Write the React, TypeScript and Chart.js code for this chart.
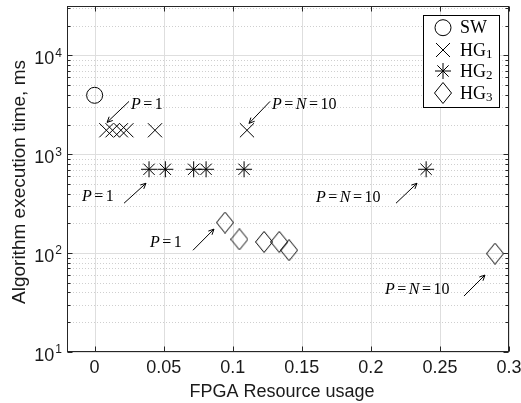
import React, { useEffect, useRef } from 'react';
import { Chart, registerables } from 'chart.js';

Chart.register(...registerables);

// ---------------- data ----------------
const swX = [0];
const swY = [3950];
const hg1X = [0.0085, 0.013, 0.019, 0.023, 0.0437, 0.1103];
const hg1Y = [1750, 1750, 1750, 1750, 1750, 1750];
const hg2X = [0.0394, 0.0512, 0.0717, 0.0807, 0.1082, 0.24];
const hg2Y = [705, 705, 705, 705, 705, 705];
const hg3X = [0.0944, 0.1048, 0.1227, 0.1337, 0.1408, 0.2899];
const hg3Y = [204, 138, 130, 130, 107, 99];

const seriesNames = ['SW', 'HG', 'HG', 'HG'];
const seriesSubs = ['', '1', '2', '3'];

const xTickValues = [0, 0.05, 0.1, 0.15, 0.2, 0.25, 0.3];
const xTickLabels = ['0', '0.05', '0.1', '0.15', '0.2', '0.25', '0.3'];
const yTickValues = [10, 100, 1000, 10000];
const yTickExps = ['1', '2', '3', '4'];
const yMinorMultipliers = [2, 3, 4, 5, 6, 7, 8, 9];

const xMin = -0.02;
const xMax = 0.3;
const yMin = 10;
const yMax = 31623;

const xTitle = 'FPGA Resource usage';
const yTitle = 'Algorithm execution time, ms';

// annotations (data coordinates): label, text left/middle anchor, arrow tail, arrow head
const annLabels = ['P=1', 'P=N=10', 'P=1', 'P=1', 'P=N=10', 'P=N=10'];
const annTextX = [0.0263, 0.1284, -0.0091, 0.0401, 0.1603, 0.2102];
const annTextY = [3199, 3199, 368, 126, 359, 42.3];
const annTailX = [0.0249, 0.127, 0.0213, 0.0712, 0.2182, 0.2674];
const annTailY = [3428, 3428, 320, 107, 320, 36.8];
const annHeadX = [0.009, 0.1118, 0.0372, 0.0864, 0.2334, 0.2826];
const annHeadY = [2104, 2056, 509, 175, 509, 60];

// ---------------- helpers ----------------
const SANS = '"Liberation Sans", Arial, sans-serif';
const SERIF = '"Liberation Serif", "Times New Roman", serif';
const TEXT = '#1a1a1a';

type Seg = { t: string; font: string; dy?: number; gap?: number };

function segsWidth(ctx: CanvasRenderingContext2D, segs: Seg[]) {
  let w = 0;
  segs.forEach((s) => {
    ctx.font = s.font;
    w += (s.gap || 0) + ctx.measureText(s.t).width;
  });
  return w;
}

function drawSegs(ctx: CanvasRenderingContext2D, segs: Seg[], x: number, y: number) {
  let cx = x;
  segs.forEach((s) => {
    cx += s.gap || 0;
    ctx.font = s.font;
    ctx.fillText(s.t, cx, y + (s.dy || 0));
    cx += ctx.measureText(s.t).width;
  });
}

function mathSegs(label: string, size: number, gapEq: number): Seg[] {
  const toks = label.match(/[A-Za-z]|=|\d+/g) || [];
  const segs: Seg[] = [];
  let pendingGap = 0;
  toks.forEach((tk) => {
    if (tk === '=') {
      segs.push({ t: '=', font: `${size}px ${SERIF}`, gap: gapEq });
      pendingGap = gapEq;
    } else if (/[A-Za-z]/.test(tk)) {
      segs.push({ t: tk, font: `italic ${size}px ${SERIF}`, gap: pendingGap });
      pendingGap = 0;
    } else {
      segs.push({ t: tk, font: `${size}px ${SERIF}`, gap: pendingGap });
      pendingGap = 0;
    }
  });
  return segs;
}

function makeDiamond(w: number, h: number) {
  const c = document.createElement('canvas');
  c.width = w;
  c.height = h;
  const g = c.getContext('2d')!;
  g.strokeStyle = '#000';
  g.lineWidth = 1;
  g.beginPath();
  g.moveTo(w / 2, 0.5);
  g.lineTo(w - 0.5, h / 2);
  g.lineTo(w / 2, h - 0.5);
  g.lineTo(0.5, h / 2);
  g.closePath();
  g.stroke();
  return c;
}

function drawMarker(ctx: CanvasRenderingContext2D, kind: number, x: number, y: number, diamond: HTMLCanvasElement) {
  ctx.save();
  ctx.strokeStyle = '#000';
  ctx.lineWidth = 1;
  ctx.beginPath();
  if (kind === 0) {
    ctx.arc(x, y, 8, 0, Math.PI * 2);
  } else if (kind === 1) {
    const r = 7;
    ctx.moveTo(x - r, y - r); ctx.lineTo(x + r, y + r);
    ctx.moveTo(x - r, y + r); ctx.lineTo(x + r, y - r);
  } else if (kind === 2) {
    const r = 8;
    const d = r * Math.SQRT1_2;
    ctx.moveTo(x - r, y); ctx.lineTo(x + r, y);
    ctx.moveTo(x, y - r); ctx.lineTo(x, y + r);
    ctx.moveTo(x - d, y - d); ctx.lineTo(x + d, y + d);
    ctx.moveTo(x - d, y + d); ctx.lineTo(x + d, y - d);
  }
  ctx.stroke();
  if (kind === 3) {
    ctx.drawImage(diamond, x - diamond.width / 2, y - diamond.height / 2);
  }
  ctx.restore();
}

function toPoints(xs: number[], ys: number[]) {
  return xs.map((x, i) => ({ x, y: ys[i] }));
}

export default function App() {
  const ref = useRef<HTMLCanvasElement | null>(null);

  useEffect(() => {
    if (!ref.current) return;
    const diamond = makeDiamond(18, 22);

    const deco = {
      id: 'deco',
      beforeDatasetsDraw(chart: any) {
        const { ctx, chartArea: a, scales } = chart;
        const xs = scales.x;
        const ys = scales.y;
        ctx.save();
        ctx.strokeStyle = '#dedede';
        ctx.lineWidth = 1;
        xTickValues.forEach((v) => {
          const px = Math.round(xs.getPixelForValue(v)) + 0.5;
          ctx.beginPath();
          ctx.moveTo(px, a.top);
          ctx.lineTo(px, a.bottom);
          ctx.stroke();
        });
        ctx.strokeStyle = '#cfcfcf';
        ctx.setLineDash([1, 2]);
        yTickValues.forEach((dec) => {
          yMinorMultipliers.forEach((m) => {
            const v = dec * m;
            if (v > yMax) return;
            const py = Math.round(ys.getPixelForValue(v)) + 0.5;
            ctx.beginPath();
            ctx.moveTo(a.left, py);
            ctx.lineTo(a.right, py);
            ctx.stroke();
          });
        });
        ctx.setLineDash([]);
        ctx.strokeStyle = '#dedede';
        yTickValues.forEach((v) => {
          const py = Math.round(ys.getPixelForValue(v)) + 0.5;
          ctx.beginPath();
          ctx.moveTo(a.left, py);
          ctx.lineTo(a.right, py);
          ctx.stroke();
        });
        ctx.restore();
      },
      afterDraw(chart: any) {
        const { ctx, chartArea: a, scales } = chart;
        const xs = scales.x;
        const ys = scales.y;
        ctx.save();
        ctx.strokeStyle = '#262626';
        ctx.lineWidth = 1;
        const L = Math.round(a.left) + 0.5;
        const R = Math.round(a.right) - 0.5;
        const T = Math.round(a.top) + 0.5;
        const B = Math.round(a.bottom) - 0.5;
        ctx.strokeRect(L, T, R - L, B - T);
        ctx.beginPath();
        xTickValues.forEach((v) => {
          const px = Math.round(xs.getPixelForValue(v)) + 0.5;
          ctx.moveTo(px, B); ctx.lineTo(px, B - 5);
          ctx.moveTo(px, T); ctx.lineTo(px, T + 5);
        });
        yTickValues.forEach((v) => {
          const py = Math.round(ys.getPixelForValue(v)) + 0.5;
          ctx.moveTo(L, py); ctx.lineTo(L + 5, py);
          ctx.moveTo(R, py); ctx.lineTo(R - 5, py);
        });
        yTickValues.forEach((dec) => {
          yMinorMultipliers.forEach((m) => {
            const v = dec * m;
            if (v > yMax) return;
            const py = Math.round(ys.getPixelForValue(v)) + 0.5;
            ctx.moveTo(L, py); ctx.lineTo(L + 3, py);
            ctx.moveTo(R, py); ctx.lineTo(R - 3, py);
          });
        });
        ctx.stroke();

        // tick labels
        ctx.fillStyle = TEXT;
        ctx.textBaseline = 'middle';
        ctx.textAlign = 'center';
        ctx.font = `18px ${SANS}`;
        xTickValues.forEach((v, i) => {
          ctx.fillText(xTickLabels[i], xs.getPixelForValue(v), a.bottom + 16);
        });
        ctx.textAlign = 'left';
        yTickValues.forEach((v, i) => {
          const py = ys.getPixelForValue(v);
          const segs: Seg[] = [
            { t: '10', font: `18px ${SANS}`, dy: 4 },
            { t: yTickExps[i], font: `12px ${SANS}`, dy: -2, gap: 1 },
          ];
          const w = segsWidth(ctx, segs);
          drawSegs(ctx, segs, a.left - 5 - w, py);
        });

        // titles
        ctx.textAlign = 'center';
        ctx.font = `18px ${SANS}`;
        ctx.fillText(xTitle, (a.left + a.right) / 2 - 6, a.bottom + 40);
        ctx.save();
        ctx.translate(20, (a.top + a.bottom) / 2 + 3);
        ctx.rotate(-Math.PI / 2);
        ctx.font = `19px ${SANS}`;
        ctx.fillText(yTitle, 0, 0);
        ctx.restore();

        // annotations
        ctx.textAlign = 'left';
        ctx.strokeStyle = '#000';
        ctx.fillStyle = '#000';
        annLabels.forEach((lab, i) => {
          const segs = mathSegs(lab, 16, 2.5);
          drawSegs(ctx, segs, xs.getPixelForValue(annTextX[i]), ys.getPixelForValue(annTextY[i]));
          const x0 = xs.getPixelForValue(annTailX[i]);
          const y0 = ys.getPixelForValue(annTailY[i]);
          const x1 = xs.getPixelForValue(annHeadX[i]);
          const y1 = ys.getPixelForValue(annHeadY[i]);
          const ang = Math.atan2(y1 - y0, x1 - x0);
          ctx.beginPath();
          ctx.moveTo(x0, y0);
          ctx.lineTo(x1, y1);
          const hl = 6;
          const ha = 0.45;
          ctx.moveTo(x1 - hl * Math.cos(ang - ha), y1 - hl * Math.sin(ang - ha));
          ctx.lineTo(x1, y1);
          ctx.lineTo(x1 - hl * Math.cos(ang + ha), y1 - hl * Math.sin(ang + ha));
          ctx.lineWidth = 1;
          ctx.stroke();
        });

        // legend
        const lw = 76;
        const lh = 92;
        const lx = Math.round(a.right) - 10 - lw;
        const ly = Math.round(a.top) + 9;
        ctx.fillStyle = '#fff';
        ctx.fillRect(lx, ly, lw, lh);
        ctx.strokeStyle = '#000';
        ctx.strokeRect(lx + 0.5, ly + 0.5, lw, lh);
        ctx.fillStyle = '#000';
        const rowY = [12.7, 35, 56, 78];
        seriesNames.forEach((nm, i) => {
          const cy = ly + rowY[i];
          drawMarker(ctx, i, lx + 20, cy, diamond);
          const segs: Seg[] = [{ t: nm, font: `18px ${SERIF}` }];
          if (seriesSubs[i]) segs.push({ t: seriesSubs[i], font: `13px ${SERIF}`, dy: 4 });
          drawSegs(ctx, segs, lx + 37, cy + 1);
        });
        ctx.restore();
      },
    };

    const chart = new Chart(ref.current, {
      type: 'scatter',
      data: {
        datasets: [
          {
            label: 'SW',
            data: toPoints(swX, swY),
            pointStyle: 'circle',
            pointRadius: 8,
            borderColor: '#000',
            backgroundColor: 'rgba(0,0,0,0)',
            pointBorderWidth: 1,
          },
          {
            label: 'HG1',
            data: toPoints(hg1X, hg1Y),
            pointStyle: 'crossRot',
            pointRadius: 10,
            borderColor: '#000',
            backgroundColor: 'rgba(0,0,0,0)',
            pointBorderWidth: 1,
          },
          {
            label: 'HG2',
            data: toPoints(hg2X, hg2Y),
            pointStyle: 'star',
            pointRadius: 8,
            borderColor: '#000',
            backgroundColor: 'rgba(0,0,0,0)',
            pointBorderWidth: 1,
          },
          {
            label: 'HG3',
            data: toPoints(hg3X, hg3Y),
            pointStyle: diamond as any,
            pointRadius: 9,
            borderColor: '#000',
            backgroundColor: 'rgba(0,0,0,0)',
            pointBorderWidth: 1,
          },
        ],
      },
      options: {
        animation: false,
        responsive: true,
        maintainAspectRatio: false,
        layout: { autoPadding: false, padding: { left: 8, right: 12, top: 6, bottom: 0 } },
        plugins: { legend: { display: false }, tooltip: { enabled: false } },
        events: [],
        scales: {
          x: {
            type: 'linear',
            min: xMin,
            max: xMax,
            grid: { display: false, drawTicks: false },
            border: { display: false },
            ticks: { display: false },
            afterFit: (s: any) => { s.height = 51; },
          },
          y: {
            type: 'logarithmic',
            min: yMin,
            max: yMax,
            grid: { display: false, drawTicks: false },
            border: { display: false },
            ticks: { display: false },
            afterFit: (s: any) => { s.width = 59; },
          },
        },
      },
      plugins: [deco],
    } as any);

    return () => chart.destroy();
  }, []);

  return (
    <div style={{ position: 'fixed', left: 0, top: 0, width: 521, height: 403, background: '#fff' }}>
      <canvas ref={ref} />
    </div>
  );
}
